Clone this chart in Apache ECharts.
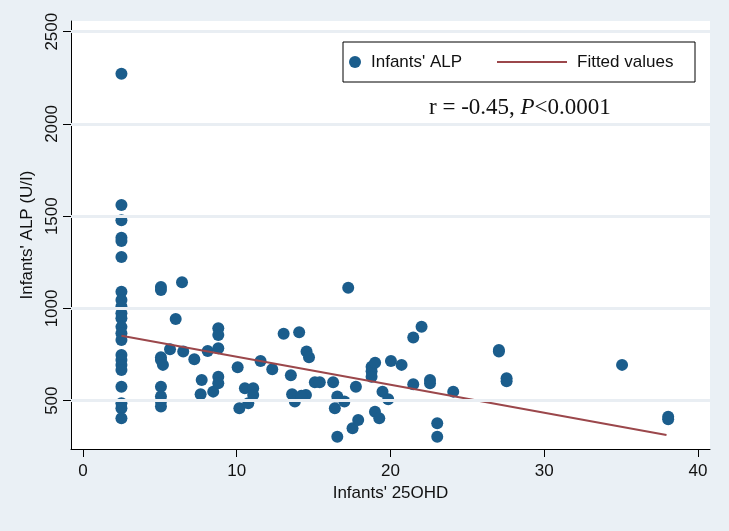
<!DOCTYPE html>
<html><head><meta charset="utf-8">
<script src="https://cdn.jsdelivr.net/npm/echarts@6/dist/echarts.min.js"></script>
<style>html,body{margin:0;padding:0;background:#eaf0f5}#c{width:729px;height:531px}</style>
</head><body><div id="c"></div>
<script>
const xTicks=[0,10,20,30,40];
const yTicks=[500,1000,1500,2000,2500];
const alpPoints=[
[2.5,2272],[2.5,1561],[2.5,1478],[2.5,1383],[2.5,1366],[2.5,1279],[2.5,1091],[2.5,1046],[2.5,1010],[2.5,974],[2.5,947],[2.5,900],[2.5,865],[2.5,829],[2.5,748],[2.5,721],[2.5,694],[2.5,666],[2.5,576],[2.5,486],[2.5,459],[2.5,405],
[5.07,1116],[5.07,1100],[5.07,736],[5.07,720],[5.2,694],[5.07,576],[5.07,522],[5.07,495],[5.07,468],
[5.66,779],[6.44,1142],[6.03,943],[6.52,766],[7.24,724],[7.72,612],[7.65,535],[8.11,769],[8.47,549],
[8.8,892],[8.8,856],[8.8,784],[8.8,630],[8.8,594],
[10.06,681],[10.17,459],[10.75,486],[10.53,567],[11.07,567],[11.07,531],[11.55,715],[12.31,670],
[13.05,863],[14.06,871],[13.52,638],[13.6,535],[13.78,495],[14.54,766],[14.7,735],[14.5,531],[14.2,526],
[15.08,600],[15.4,600],[16.27,600],[16.38,459],[16.54,522],[16.54,305],[17.0,495],[17.25,1112],[17.53,350],[17.75,576],
[17.9,395],[18.77,684],[18.77,660],[18.77,630],[19.0,706],[18.99,440],[19.27,405],[19.48,549],[19.85,508],
[20.03,715],[20.72,694],[21.48,842],[22.02,901],[21.48,589],[22.57,612],[22.57,595],[23.04,378],[23.04,305],[24.08,549],
[27.05,775],[27.05,766],[27.55,621],[27.55,605],[35.06,694],[38.06,413],[38.06,399]
];
const fitLine=[[2.5,852],[37.95,314]];
const names=["Infants' ALP","Fitted values"];
const annotation="r = -0.45, ";
const dotColor='#1b5d8c', lineColor='#9b474b';
const chart=echarts.init(document.getElementById('c'));
chart.setOption({
 backgroundColor:'#eaf0f5',
 animation:false,
 grid:{left:71,right:19,top:21,bottom:82,backgroundColor:'#fff',show:true,borderWidth:0},
 xAxis:{type:'value',min:-0.78,max:40.78,name:"Infants' 25OHD",nameLocation:'middle',nameGap:36,
  nameTextStyle:{fontFamily:'Liberation Sans',fontSize:17,color:'#111'},
  axisLine:{show:true,onZero:false,lineStyle:{color:'#000',width:1}},
  axisTick:{show:true,length:8,customValues:xTicks,lineStyle:{color:'#000'}},
  axisLabel:{customValues:xTicks,fontFamily:'Liberation Sans',fontSize:17,color:'#111',margin:14},
  splitLine:{show:false}},
 yAxis:{type:'value',min:238,max:2558,name:"Infants' ALP (U/I)",nameLocation:'middle',nameGap:33,nameRotate:90,
  nameTextStyle:{fontFamily:'Liberation Sans',fontSize:17,color:'#111'},
  axisLine:{show:true,onZero:false,lineStyle:{color:'#000',width:1}},
  axisTick:{show:true,length:8,customValues:yTicks,lineStyle:{color:'#000'}},
  axisLabel:{customValues:yTicks,formatter:v=>String(v),rotate:90,fontFamily:'Liberation Sans',fontSize:17,color:'#111',margin:10},
  splitLine:{show:false}},
 series:[
  {type:'line',data:[],z:1,markLine:{silent:true,symbol:'none',label:{show:false},
    lineStyle:{color:'#e9eef3',width:3,type:'solid'},data:yTicks.map(v=>({yAxis:v}))}},
  {type:'scatter',name:names[0],data:alpPoints,symbolSize:12,itemStyle:{color:dotColor,opacity:1},z:3},
  {type:'line',name:names[1],data:fitLine,showSymbol:false,lineStyle:{color:lineColor,width:2},z:4}
 ],
 graphic:[
  {type:'rect',shape:{x:343,y:42,width:352,height:40},style:{fill:'#fff',stroke:'#000',lineWidth:1},z:10},
  {type:'circle',shape:{cx:355,cy:62,r:6},style:{fill:dotColor},z:11},
  {type:'text',x:371,y:62,style:{text:names[0],fontFamily:'Liberation Sans',fontSize:17,fill:'#111',verticalAlign:'middle'},z:11},
  {type:'line',shape:{x1:497,y1:62,x2:567,y2:62},style:{stroke:lineColor,lineWidth:2},z:11},
  {type:'text',x:577,y:62,style:{text:names[1],fontFamily:'Liberation Sans',fontSize:17,fill:'#111',verticalAlign:'middle'},z:11},
  {type:'text',x:429,y:108,style:{rich:{a:{fontFamily:'Liberation Serif',fontSize:23,fill:'#111'},b:{fontFamily:'Liberation Serif',fontSize:23,fontStyle:'italic',fill:'#111'}},
    text:'{a|'+annotation+'}{b|P}{a|<0.0001}',verticalAlign:'middle'},z:11}
 ]
});
</script></body></html>
